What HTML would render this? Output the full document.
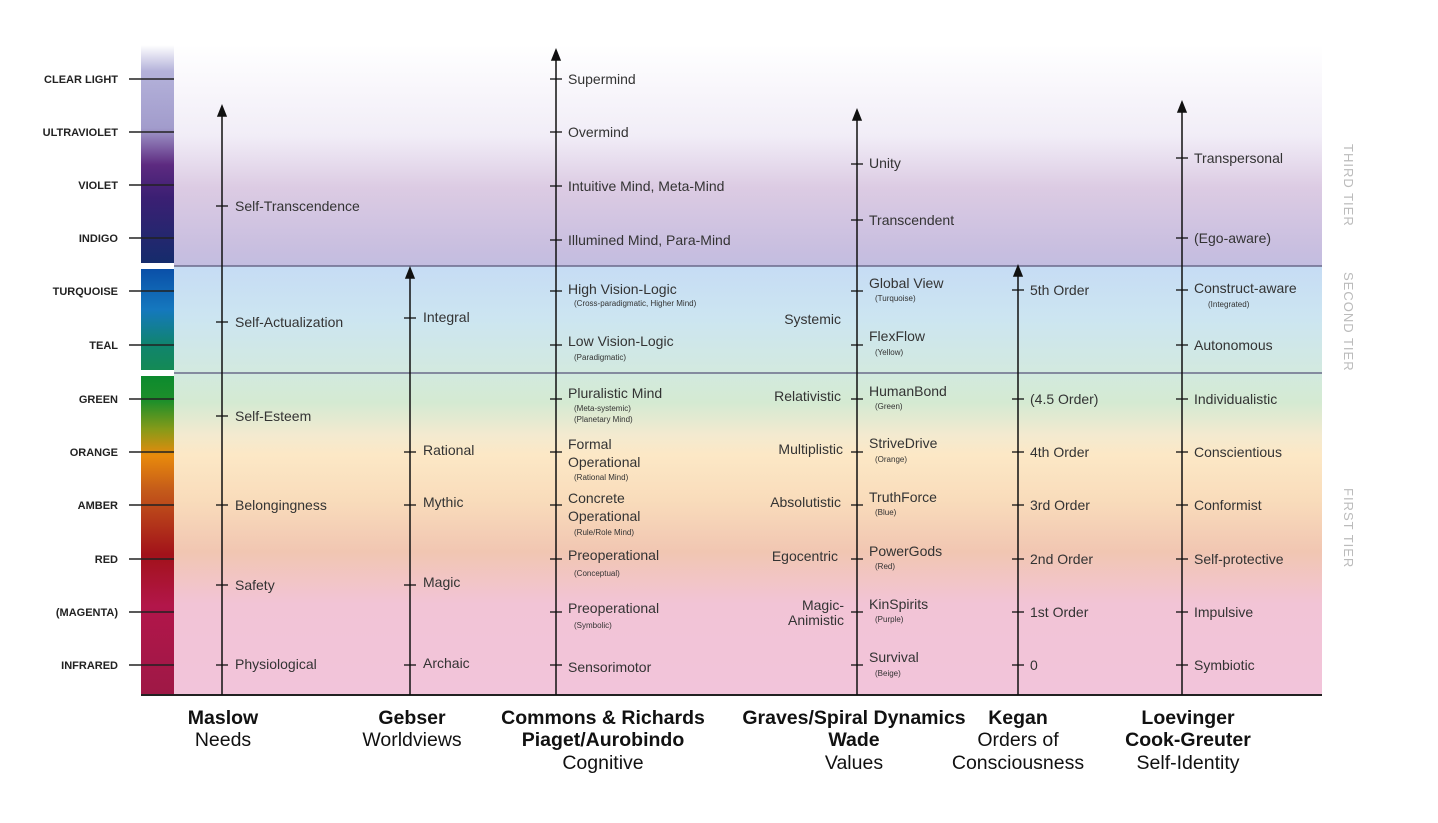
<!DOCTYPE html>
<html><head><meta charset="utf-8"><style>
html,body{margin:0;padding:0;background:#fff;}
svg{display:block;}
text{font-family:"Liberation Sans Narrow","Liberation Sans",sans-serif;fill:#333;}
.m{font-size:14px;}
.s{font-size:8px;}
.lb{font-size:11px;font-weight:bold;fill:#222;}
.t{font-family:"Liberation Sans",sans-serif;font-size:19.5px;fill:#111;}
.tb{font-family:"Liberation Sans",sans-serif;font-size:19.5px;font-weight:bold;fill:#111;}
.tier{font-size:13px;fill:#bbb;letter-spacing:1px;}
</style></head><body>
<svg width="1438" height="823" viewBox="0 0 1438 823" xmlns="http://www.w3.org/2000/svg">
<defs>
<linearGradient id="bg" x1="0" y1="45" x2="0" y2="695" gradientUnits="userSpaceOnUse">
<stop offset="0" stop-color="#ffffff"/>
<stop offset="0.14" stop-color="#f1edf7"/>
<stop offset="0.22" stop-color="#dccbe3"/>
<stop offset="0.31" stop-color="#c9bfe0"/>
<stop offset="0.339" stop-color="#c3bde0"/>
<stop offset="0.341" stop-color="#c6dcf4"/>
<stop offset="0.42" stop-color="#cce5f1"/>
<stop offset="0.50" stop-color="#d2e9e0"/>
<stop offset="0.55" stop-color="#d4ead2"/>
<stop offset="0.60" stop-color="#f3ead0"/>
<stop offset="0.63" stop-color="#fce8c6"/>
<stop offset="0.70" stop-color="#f9dcbb"/>
<stop offset="0.78" stop-color="#f1c6b2"/>
<stop offset="0.86" stop-color="#f2c4d6"/>
<stop offset="1" stop-color="#f2c4da"/>
</linearGradient>
<linearGradient id="bar1" x1="0" y1="45" x2="0" y2="263" gradientUnits="userSpaceOnUse">
<stop offset="0" stop-color="#ffffff"/>
<stop offset="0.12" stop-color="#b4b2da"/>
<stop offset="0.38" stop-color="#a29ccc"/>
<stop offset="0.55" stop-color="#5d2a80"/>
<stop offset="0.7" stop-color="#3b1f73"/>
<stop offset="1" stop-color="#152c6c"/>
</linearGradient>
<linearGradient id="bar2" x1="0" y1="269" x2="0" y2="370" gradientUnits="userSpaceOnUse">
<stop offset="0" stop-color="#0a4fa8"/>
<stop offset="0.4" stop-color="#1578be"/>
<stop offset="0.75" stop-color="#10846e"/>
<stop offset="1" stop-color="#148a55"/>
</linearGradient>
<linearGradient id="bar3" x1="0" y1="376" x2="0" y2="695" gradientUnits="userSpaceOnUse">
<stop offset="0" stop-color="#0c8a2e"/>
<stop offset="0.08" stop-color="#1f8f2a"/>
<stop offset="0.17" stop-color="#8a9a18"/>
<stop offset="0.25" stop-color="#e88a0c"/>
<stop offset="0.36" stop-color="#c45a1a"/>
<stop offset="0.56" stop-color="#a2121a"/>
<stop offset="0.72" stop-color="#b2164a"/>
<stop offset="1" stop-color="#9e1846"/>
</linearGradient>
</defs>
<rect x="174" y="45" width="1148" height="650" fill="url(#bg)"/>
<rect x="141" y="45" width="33" height="218" fill="url(#bar1)"/>
<rect x="141" y="269" width="33" height="101" fill="url(#bar2)"/>
<rect x="141" y="376" width="33" height="319" fill="url(#bar3)"/>
<g stroke="#6a6a8a" stroke-width="1.5">
<line x1="174" y1="266" x2="1322" y2="266"/>
<line x1="174" y1="373" x2="1322" y2="373"/>
</g>
<g stroke="#222" stroke-width="1.5">
<line x1="129" y1="79" x2="174" y2="79"/><line x1="129" y1="132" x2="174" y2="132"/>
<line x1="129" y1="185" x2="174" y2="185"/><line x1="129" y1="238" x2="174" y2="238"/>
<line x1="129" y1="291" x2="174" y2="291"/><line x1="129" y1="345" x2="174" y2="345"/>
<line x1="129" y1="399" x2="174" y2="399"/><line x1="129" y1="452" x2="174" y2="452"/>
<line x1="129" y1="505" x2="174" y2="505"/><line x1="129" y1="559" x2="174" y2="559"/>
<line x1="129" y1="612" x2="174" y2="612"/><line x1="129" y1="665" x2="174" y2="665"/>
<line x1="141" y1="695" x2="1322" y2="695" stroke-width="2"/>
</g>
<g text-anchor="end" class="lb">
<text x="118" y="83" class="lb">CLEAR LIGHT</text><text x="118" y="136" class="lb">ULTRAVIOLET</text>
<text x="118" y="189" class="lb">VIOLET</text><text x="118" y="242" class="lb">INDIGO</text>
<text x="118" y="295" class="lb">TURQUOISE</text><text x="118" y="349" class="lb">TEAL</text>
<text x="118" y="403" class="lb">GREEN</text><text x="118" y="456" class="lb">ORANGE</text>
<text x="118" y="509" class="lb">AMBER</text><text x="118" y="563" class="lb">RED</text>
<text x="118" y="616" class="lb">(MAGENTA)</text><text x="118" y="669" class="lb">INFRARED</text>
</g>
<g stroke="#111" stroke-width="1.5" fill="#111">
<line x1="222" y1="112" x2="222" y2="695"/><polygon points="218,116 222,106 226,116"/>
<line x1="410" y1="274" x2="410" y2="695"/><polygon points="406,278 410,268 414,278"/>
<line x1="556" y1="56" x2="556" y2="695"/><polygon points="552,60 556,50 560,60"/>
<line x1="857" y1="116" x2="857" y2="695"/><polygon points="853,120 857,110 861,120"/>
<line x1="1018" y1="272" x2="1018" y2="695"/><polygon points="1014,276 1018,266 1022,276"/>
<line x1="1182" y1="108" x2="1182" y2="695"/><polygon points="1178,112 1182,102 1186,112"/>
</g>
<g stroke="#111" stroke-width="1.3">
<line x1="216" y1="206" x2="228" y2="206"/><line x1="216" y1="322" x2="228" y2="322"/><line x1="216" y1="416" x2="228" y2="416"/><line x1="216" y1="505" x2="228" y2="505"/><line x1="216" y1="585" x2="228" y2="585"/><line x1="216" y1="665" x2="228" y2="665"/>
<line x1="404" y1="318" x2="416" y2="318"/><line x1="404" y1="452" x2="416" y2="452"/><line x1="404" y1="505" x2="416" y2="505"/><line x1="404" y1="585" x2="416" y2="585"/><line x1="404" y1="665" x2="416" y2="665"/>
<line x1="550" y1="79" x2="562" y2="79"/><line x1="550" y1="132" x2="562" y2="132"/><line x1="550" y1="186" x2="562" y2="186"/><line x1="550" y1="240" x2="562" y2="240"/><line x1="550" y1="291" x2="562" y2="291"/><line x1="550" y1="345" x2="562" y2="345"/><line x1="550" y1="399" x2="562" y2="399"/><line x1="550" y1="452" x2="562" y2="452"/><line x1="550" y1="505" x2="562" y2="505"/><line x1="550" y1="559" x2="562" y2="559"/><line x1="550" y1="612" x2="562" y2="612"/><line x1="550" y1="665" x2="562" y2="665"/>
<line x1="851" y1="164" x2="863" y2="164"/><line x1="851" y1="220" x2="863" y2="220"/><line x1="851" y1="291" x2="863" y2="291"/><line x1="851" y1="345" x2="863" y2="345"/><line x1="851" y1="399" x2="863" y2="399"/><line x1="851" y1="452" x2="863" y2="452"/><line x1="851" y1="505" x2="863" y2="505"/><line x1="851" y1="559" x2="863" y2="559"/><line x1="851" y1="612" x2="863" y2="612"/><line x1="851" y1="665" x2="863" y2="665"/>
<line x1="1012" y1="290" x2="1024" y2="290"/><line x1="1012" y1="399" x2="1024" y2="399"/><line x1="1012" y1="452" x2="1024" y2="452"/><line x1="1012" y1="505" x2="1024" y2="505"/><line x1="1012" y1="559" x2="1024" y2="559"/><line x1="1012" y1="612" x2="1024" y2="612"/><line x1="1012" y1="665" x2="1024" y2="665"/>
<line x1="1176" y1="158" x2="1188" y2="158"/><line x1="1176" y1="238" x2="1188" y2="238"/><line x1="1176" y1="290" x2="1188" y2="290"/><line x1="1176" y1="345" x2="1188" y2="345"/><line x1="1176" y1="399" x2="1188" y2="399"/><line x1="1176" y1="452" x2="1188" y2="452"/><line x1="1176" y1="505" x2="1188" y2="505"/><line x1="1176" y1="559" x2="1188" y2="559"/><line x1="1176" y1="612" x2="1188" y2="612"/><line x1="1176" y1="665" x2="1188" y2="665"/>
</g>
<g class="m">
<text x="235" y="211" class="m">Self-Transcendence</text><text x="235" y="327" class="m">Self-Actualization</text><text x="235" y="421" class="m">Self-Esteem</text><text x="235" y="510" class="m">Belongingness</text><text x="235" y="590" class="m">Safety</text><text x="235" y="669" class="m">Physiological</text>
<text x="423" y="322" class="m">Integral</text><text x="423" y="455" class="m">Rational</text><text x="423" y="507" class="m">Mythic</text><text x="423" y="587" class="m">Magic</text><text x="423" y="668" class="m">Archaic</text>
<text x="568" y="84" class="m">Supermind</text><text x="568" y="137" class="m">Overmind</text><text x="568" y="191" class="m">Intuitive Mind, Meta-Mind</text><text x="568" y="245" class="m">Illumined Mind, Para-Mind</text>
<text x="568" y="294" class="m">High Vision-Logic</text><text x="574" y="306" class="s">(Cross-paradigmatic, Higher Mind)</text>
<text x="568" y="346" class="m">Low Vision-Logic</text><text x="574" y="360" class="s">(Paradigmatic)</text>
<text x="568" y="398" class="m">Pluralistic Mind</text><text x="574" y="411" class="s">(Meta-systemic)</text><text x="574" y="422" class="s">(Planetary Mind)</text>
<text x="568" y="449" class="m">Formal</text><text x="568" y="467" class="m">Operational</text><text x="574" y="480" class="s">(Rational Mind)</text>
<text x="568" y="503" class="m">Concrete</text><text x="568" y="521" class="m">Operational</text><text x="574" y="535" class="s">(Rule/Role Mind)</text>
<text x="568" y="560" class="m">Preoperational</text><text x="574" y="576" class="s">(Conceptual)</text>
<text x="568" y="613" class="m">Preoperational</text><text x="574" y="628" class="s">(Symbolic)</text>
<text x="568" y="672" class="m">Sensorimotor</text>
<g text-anchor="end">
<text x="841" y="324" class="m">Systemic</text><text x="841" y="401" class="m">Relativistic</text><text x="843" y="454" class="m">Multiplistic</text><text x="841" y="507" class="m">Absolutistic</text><text x="838" y="561" class="m">Egocentric</text><text x="844" y="610" class="m">Magic-</text><text x="844" y="625" class="m">Animistic</text>
</g>
<text x="869" y="168" class="m">Unity</text><text x="869" y="225" class="m">Transcendent</text>
<text x="869" y="288" class="m">Global View</text><text x="875" y="301" class="s">(Turquoise)</text>
<text x="869" y="341" class="m">FlexFlow</text><text x="875" y="355" class="s">(Yellow)</text>
<text x="869" y="396" class="m">HumanBond</text><text x="875" y="409" class="s">(Green)</text>
<text x="869" y="448" class="m">StriveDrive</text><text x="875" y="462" class="s">(Orange)</text>
<text x="869" y="502" class="m">TruthForce</text><text x="875" y="515" class="s">(Blue)</text>
<text x="869" y="556" class="m">PowerGods</text><text x="875" y="569" class="s">(Red)</text>
<text x="869" y="609" class="m">KinSpirits</text><text x="875" y="622" class="s">(Purple)</text>
<text x="869" y="662" class="m">Survival</text><text x="875" y="676" class="s">(Beige)</text>
<text x="1030" y="295" class="m">5th Order</text><text x="1030" y="404" class="m">(4.5 Order)</text><text x="1030" y="457" class="m">4th Order</text><text x="1030" y="510" class="m">3rd Order</text><text x="1030" y="564" class="m">2nd Order</text><text x="1030" y="617" class="m">1st Order</text><text x="1030" y="670" class="m">0</text>
<text x="1194" y="163" class="m">Transpersonal</text><text x="1194" y="243" class="m">(Ego-aware)</text><text x="1194" y="293" class="m">Construct-aware</text><text x="1208" y="307" class="s">(Integrated)</text><text x="1194" y="350" class="m">Autonomous</text><text x="1194" y="404" class="m">Individualistic</text><text x="1194" y="457" class="m">Conscientious</text><text x="1194" y="510" class="m">Conformist</text><text x="1194" y="564" class="m">Self-protective</text><text x="1194" y="617" class="m">Impulsive</text><text x="1194" y="670" class="m">Symbiotic</text>
</g>
<g>
<text class="tier" transform="translate(1344,144) rotate(90)">THIRD TIER</text>
<text class="tier" transform="translate(1344,272) rotate(90)">SECOND TIER</text>
<text class="tier" transform="translate(1344,488) rotate(90)">FIRST TIER</text>
</g>
<g text-anchor="middle">
<text x="223" y="724" class="tb">Maslow</text><text x="223" y="746" class="t">Needs</text>
<text x="412" y="724" class="tb">Gebser</text><text x="412" y="746" class="t">Worldviews</text>
<text x="603" y="724" class="tb">Commons &amp; Richards</text><text x="603" y="746" class="tb">Piaget/Aurobindo</text><text x="603" y="769" class="t">Cognitive</text>
<text x="854" y="724" class="tb">Graves/Spiral Dynamics</text><text x="854" y="746" class="tb">Wade</text><text x="854" y="769" class="t">Values</text>
<text x="1018" y="724" class="tb">Kegan</text><text x="1018" y="746" class="t">Orders of</text><text x="1018" y="769" class="t">Consciousness</text>
<text x="1188" y="724" class="tb">Loevinger</text><text x="1188" y="746" class="tb">Cook-Greuter</text><text x="1188" y="769" class="t">Self-Identity</text>
</g>
</svg>
</body></html>
